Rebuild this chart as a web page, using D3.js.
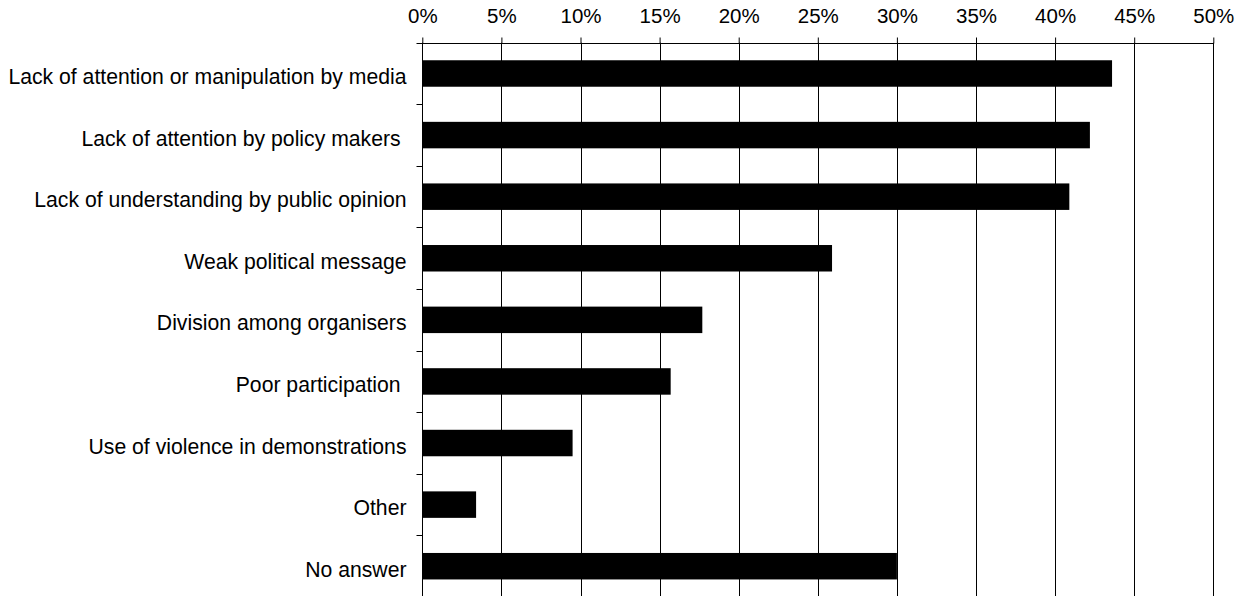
<!DOCTYPE html>
<html><head><meta charset="utf-8">
<script src="https://cdn.jsdelivr.net/npm/d3@7"></script>
<style>body{margin:0;background:#fff}svg{display:block}text{font-family:"Liberation Sans",Arial,sans-serif;white-space:pre}</style>
</head><body><svg id="c" width="1236" height="596"></svg>
<script>
const categories = ["Lack of attention or manipulation by media","Lack of attention by policy makers ","Lack of understanding by public opinion","Weak political message","Division among organisers","Poor participation ","Use of violence in demonstrations","Other","No answer"];
const values = [43.6,42.2,40.9,25.9,17.7,15.7,9.5,3.4,30.0];
const tickValues = [0,5,10,15,20,25,30,35,40,45,50];

(function(){
const svg = d3.select("#c");
const pl = 422.3, pr = 1213.3, pt = 42.7, pb = 597;
const x = d3.scaleLinear().domain([0,50]).range([pl,pr]);
const y = d3.scaleBand().domain(categories).range([pt,pb]).paddingInner(0.57).paddingOuter(0.285);
const yb = d3.scaleBand().domain(categories).range([pt,pb]);

svg.append("g").selectAll("line").data(tickValues.slice(1)).join("line")
  .attr("x1",d=>Math.round(x(d))+0.5).attr("x2",d=>Math.round(x(d))+0.5)
  .attr("y1",pt).attr("y2",pb).attr("stroke","#000").attr("stroke-width",1);

svg.append("g").selectAll("rect").data(values).join("rect")
  .attr("x",x(0)).attr("y",(d,i)=>y(categories[i]))
  .attr("width",d=>x(d)-x(0)).attr("height",y.bandwidth()).attr("fill","#000");

const xAxis = d3.axisTop(x).tickValues(tickValues).tickFormat(d=>d+"%").tickSize(6).tickPadding(14.5);
const gx = svg.append("g").attr("transform",`translate(0,${Math.round(pt)+0.5})`).call(xAxis);
gx.selectAll("text").attr("font-size",20.5).attr("fill","#000").style("font-family","'Liberation Sans',Arial,sans-serif");
gx.selectAll("line,path").attr("stroke","#000");
gx.select(".domain").attr("d",`M${pl},0H${pr}`);

const gy = svg.append("g").attr("transform",`translate(${Math.round(pl)+0.5},0)`);
gy.append("line").attr("y1",pt).attr("y2",pb).attr("stroke","#000");
gy.selectAll("line.t").data(categories.slice(1)).join("line").attr("class","t")
  .attr("x1",-6).attr("x2",0).attr("y1",d=>Math.round(yb(d))+0.5).attr("y2",d=>Math.round(yb(d))+0.5).attr("stroke","#000");
gy.append("line").attr("x1",-6).attr("x2",0).attr("y1",Math.round(pt)+0.5).attr("y2",Math.round(pt)+0.5).attr("stroke","#000");
gy.selectAll("text").data(categories).join("text")
  .attr("x",-16).attr("y",d=>yb(d)+yb.bandwidth()/2).attr("dy","0.5em")
  .attr("text-anchor","end").attr("font-size",21.2).attr("fill","#000").text(d=>d);
})();
</script></body></html>
